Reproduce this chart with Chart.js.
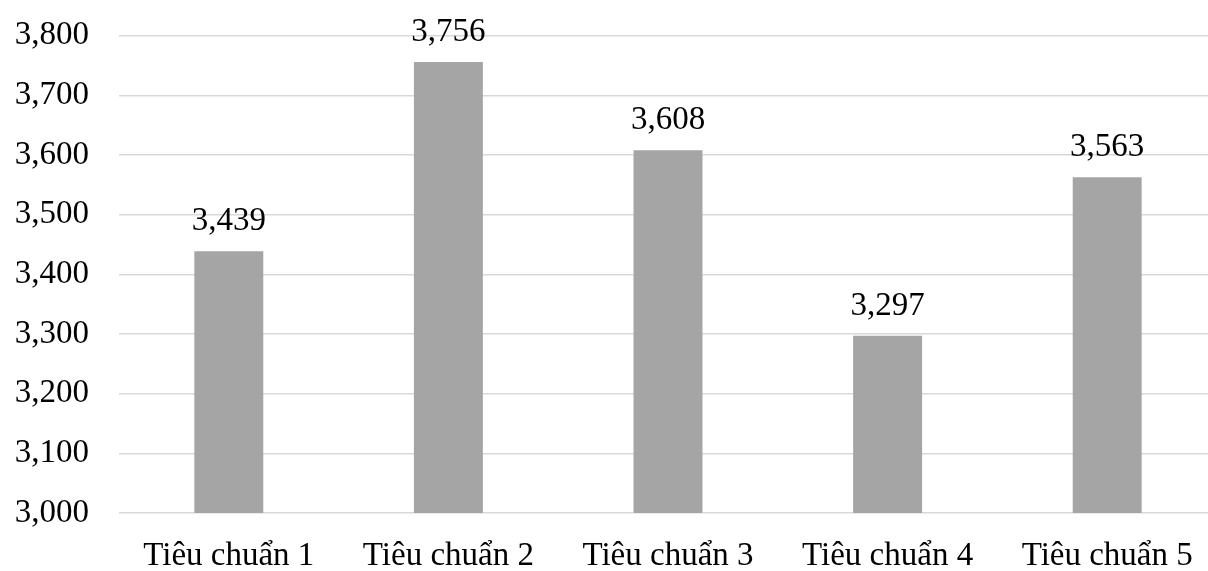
<!DOCTYPE html>
<html>
<head>
<meta charset="utf-8">
<script src="https://cdn.jsdelivr.net/npm/chart.js@4/dist/chart.umd.min.js"></script>
<style>
  html, body { margin: 0; padding: 0; background: #fff; overflow: hidden; }
  #wrap { width: 1217px; height: 585px; margin-top: -14px; }
</style>
</head>
<body>
<div id="wrap"><canvas id="bar_chart"></canvas></div>
<script>
// data
const categories = ["Tiêu chuẩn 1", "Tiêu chuẩn 2", "Tiêu chuẩn 3", "Tiêu chuẩn 4", "Tiêu chuẩn 5"];
const scores = [3.439, 3.756, 3.608, 3.297, 3.563];
const yTicks = [3.0, 3.1, 3.2, 3.3, 3.4, 3.5, 3.6, 3.7, 3.8];

const fontFamily = "'Liberation Serif', 'Times New Roman', serif";

// "3.439" -> "3,439" (comma as decimal mark, 3 digits)
function fmt(v) {
    return v.toFixed(3).replace('.', ',');
}

// labels above bars
const valueLabels = {
    id: 'valueLabels',
    afterDatasetsDraw(chart) {
        const ctx = chart.ctx;
        const meta = chart.getDatasetMeta(0);
        ctx.save();
        ctx.font = '33px ' + fontFamily;
        ctx.fillStyle = '#000';
        ctx.textAlign = 'center';
        ctx.textBaseline = 'bottom';
        meta.data.forEach(function (bar, i) {
            ctx.fillText(fmt(scores[i]), bar.x, bar.y - 13);
        });
        ctx.restore();
    }
};

const bar_chart = document.getElementById("bar_chart").getContext('2d');
new Chart(bar_chart, {
    type: 'bar',
    data: {
        labels: categories,
        datasets: [{
            data: scores,
            backgroundColor: '#a5a5a5',
            borderWidth: 0,
            categoryPercentage: 1,
            barPercentage: 0.314
        }]
    },
    options: {
        responsive: true,
        maintainAspectRatio: false,
        animation: false,
        layout: {
            padding: { top: 0, left: 13, right: 0, bottom: 0 }
        },
        plugins: {
            legend: { display: false },
            tooltip: { enabled: false }
        },
        scales: {
            x: {
                grid: { display: false },
                border: { display: false },
                afterFit(axis) { axis.height = 58; },
                ticks: {
                    color: '#000',
                    padding: 16,
                    font: { family: fontFamily, size: 33 }
                }
            },
            y: {
                min: 3.0,
                max: 3.8,
                afterBuildTicks(axis) {
                    axis.ticks = yTicks.map(v => ({ value: v }));
                },
                afterFit(axis) { axis.width = 106; },
                grid: { color: '#d9d9d9', lineWidth: 1.5, drawTicks: false },
                border: { display: false },
                ticks: {
                    color: '#000',
                    padding: 30,
                    font: { family: fontFamily, size: 33 },
                    callback: function (v) { return fmt(v); }
                }
            }
        }
    },
    plugins: [valueLabels]
});
</script>
</body>
</html>
